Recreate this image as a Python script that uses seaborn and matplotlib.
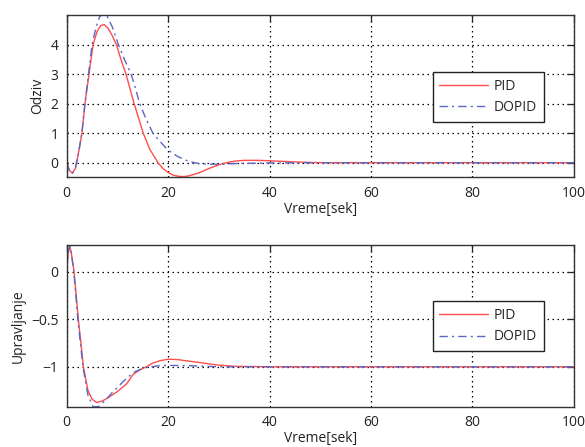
import numpy as np
import pandas as pd
import matplotlib
matplotlib.use("Agg")
import matplotlib.pyplot as plt
import seaborn as sns

# ---- data ----
t_top_pid = [0, 0.5, 1.1, 1.7, 2.3, 3.0, 3.6, 4.4, 5.2, 6.0, 6.7, 7.4, 8.2, 9.0, 9.8, 10.7,
             11.7, 12.5, 13.3, 14.2, 15.1, 16.4, 18.0, 19.0, 20.0, 21.0, 22.0, 23.0, 24.0,
             26.0, 28.0, 30.0, 31.5, 33.0, 35.0, 38.0, 42.0, 46.0, 50.0, 60.0, 80.0, 100.0]
y_top_pid = [0, -0.25, -0.36, -0.2, 0.3, 1.0, 2.0, 3.0, 4.0, 4.45, 4.65, 4.68, 4.55, 4.3, 4.0, 3.5,
             3.0, 2.5, 2.0, 1.5, 1.0, 0.45, 0.0, -0.2, -0.33, -0.42, -0.46, -0.47, -0.45,
             -0.35, -0.2, -0.07, 0.0, 0.05, 0.08, 0.08, 0.05, 0.02, 0.0, 0.0, 0.0, 0.0]

t_top_dopid = [0, 0.5, 1.1, 1.7, 2.3, 3.0, 3.6, 4.3, 5.0, 5.8, 6.5, 7.2, 8.0, 9.0, 10.2, 11.4,
               12.7, 13.6, 14.4, 15.6, 17.0, 18.5, 20.0, 22.0, 24.0, 26.0, 28.0, 30.0, 33.0,
               36.0, 40.0, 50.0, 60.0, 80.0, 100.0]
y_top_dopid = [0, -0.25, -0.36, -0.2, 0.3, 1.0, 2.0, 3.0, 4.0, 4.6, 4.95, 5.05, 4.95, 4.6, 4.0, 3.5,
               3.0, 2.5, 2.0, 1.5, 1.0, 0.7, 0.42, 0.2, 0.05, -0.03, -0.05, -0.05, -0.03,
               -0.02, -0.01, 0.0, 0.0, 0.0, 0.0]

t_bot_pid = [0, 0.3, 0.6, 0.9, 1.45, 2.3, 3.3, 4.2, 5.0, 5.9, 7.0, 8.0, 10.0, 11.8, 13.1, 14.5,
             15.7, 17.0, 18.5, 20.0, 22.0, 24.0, 26.2, 29.5, 33.0, 40.0, 60.0, 80.0, 100.0]
y_bot_pid = [0, 0.2, 0.27, 0.2, 0.0, -0.5, -1.0, -1.25, -1.34, -1.375, -1.36, -1.33, -1.26, -1.18, -1.08, -1.03,
             -1.0, -0.96, -0.935, -0.92, -0.925, -0.94, -0.955, -0.98, -0.995, -1.0, -1.0, -1.0, -1.0]

t_bot_dopid = [0, 0.3, 0.6, 0.9, 1.4, 2.2, 3.2, 4.2, 5.2, 6.2, 7.5, 9.0, 10.5, 11.8, 13.5, 15.4,
               18.0, 20.0, 25.0, 30.0, 40.0, 60.0, 80.0, 100.0]
y_bot_dopid = [0, 0.2, 0.27, 0.2, 0.0, -0.5, -1.0, -1.3, -1.42, -1.42, -1.36, -1.27, -1.19, -1.12, -1.05, -1.01,
               -0.99, -0.985, -0.99, -1.0, -1.0, -1.0, -1.0, -1.0]

series_names = ["PID", "DOPID"]
x_ticks = [0, 20, 40, 60, 80, 100]
top_yticks = [0, 1, 2, 3, 4]
bot_yticks = [0, -0.5, -1]
xlabel = "Vreme[sek]"
top_ylabel = "Odziv"
bot_ylabel = "Upravljanje"

sns.set_theme(style="white")
plt.rcParams["font.family"] = ["Open Sans", "DejaVu Sans"]
plt.rcParams["axes.unicode_minus"] = True

fig = plt.figure(figsize=(5.85, 4.47), dpi=100)
ax1 = fig.add_axes([0.114, 0.603, 0.867, 0.363])
ax2 = fig.add_axes([0.114, 0.090, 0.867, 0.362])

def make_df(t1, y1, t2, y2):
    d1 = pd.DataFrame({"t": t1, "y": y1, "s": series_names[0]})
    d2 = pd.DataFrame({"t": t2, "y": y2, "s": series_names[1]})
    return pd.concat([d1, d2], ignore_index=True)

palette = {"PID": "#ff4c4c", "DOPID": "#5a66c8"}
dashes = {"PID": "", "DOPID": (6, 3, 1.5, 3)}

FS = 10
for ax, df, yt, ylim, ylab in [
    (ax1, make_df(t_top_pid, y_top_pid, t_top_dopid, y_top_dopid), top_yticks, (-0.5, 5.0), top_ylabel),
    (ax2, make_df(t_bot_pid, y_bot_pid, t_bot_dopid, y_bot_dopid), bot_yticks, (-1.42, 0.28), bot_ylabel),
]:
    sns.lineplot(data=df, x="t", y="y", hue="s", style="s", palette=palette, dashes=dashes,
                 linewidth=1.0, ax=ax, sort=False, estimator=None, hue_order=series_names,
                 style_order=series_names)
    ax.set_xlim(0, 100)
    ax.set_ylim(*ylim)
    ax.set_xticks(x_ticks)
    ax.set_yticks(yt)
    ax.grid(True, color="black", linestyle=(0, (1.2, 2.8)), linewidth=0.9)
    ax.set_axisbelow(True)
    for sp in ax.spines.values():
        sp.set_color("#333333")
        sp.set_linewidth(1.0)
    ax.tick_params(direction="in", length=5, width=0.9, top=True, right=True,
                   labelsize=FS, colors="#222222", pad=6)
    ax.set_xlabel(xlabel, fontsize=FS, labelpad=1, color="#222222")
    ax.set_ylabel(ylab, fontsize=FS, labelpad=4, color="#222222")
    leg = ax.legend(loc="center", bbox_to_anchor=(0.831, 0.497), fontsize=FS, frameon=True,
                    fancybox=False, edgecolor="#222222", framealpha=1.0, handlelength=3.5,
                    borderpad=0.5, labelspacing=0.45, handletextpad=0.4, borderaxespad=0)
    leg.get_frame().set_linewidth(1.0)
    if ax is ax2:
        ax.set_yticklabels(["0", "\u22120.5", "\u22121"])

fig.savefig("out.png", dpi=100)
